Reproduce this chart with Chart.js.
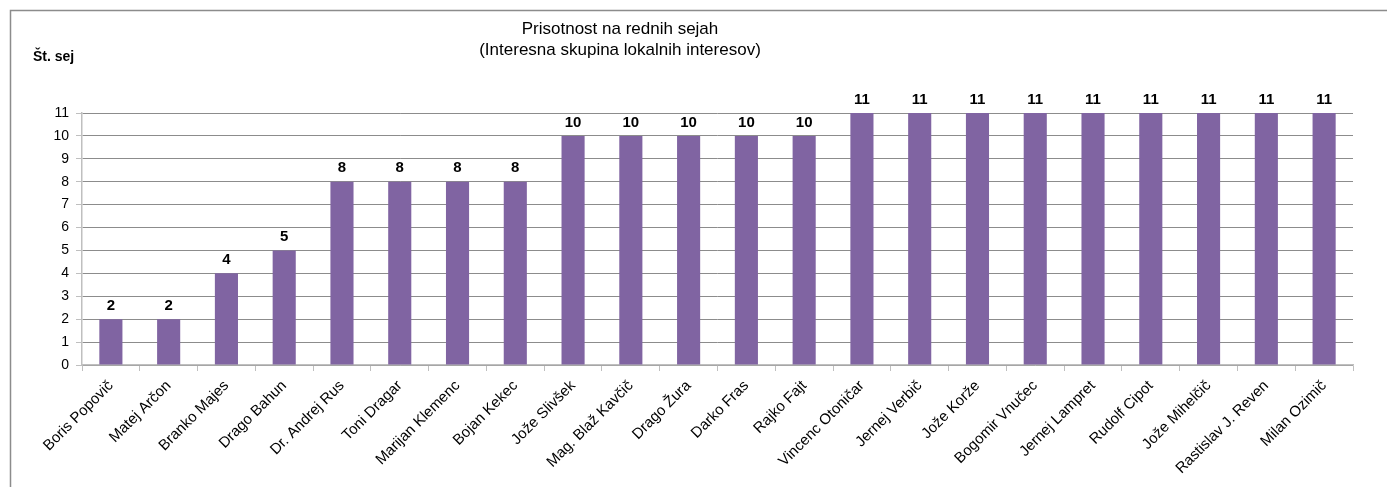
<!DOCTYPE html>
<html>
<head>
<meta charset="utf-8">
<script src="https://cdn.jsdelivr.net/npm/chart.js@4/dist/chart.umd.min.js"></script>
<style>
  html, body { margin: 0; padding: 0; background: #fff; }
  #wrap { width: 1387px; height: 487px; }
</style>
</head>
<body>
<div id="wrap"><canvas id="chart" width="1387" height="487"></canvas></div>
<script>
const names = [
  "Boris Popovič", "Matej Arčon", "Branko Majes", "Drago Bahun", "Dr. Andrej Rus",
  "Toni Dragar", "Marijan Klemenc", "Bojan Kekec", "Jože Slivšek", "Mag. Blaž Kavčič",
  "Drago Žura", "Darko Fras", "Rajko Fajt", "Vincenc Otoničar", "Jernej Verbič",
  "Jože Korže", "Bogomir Vnučec", "Jernej Lampret", "Rudolf Cipot", "Jože Mihelčič",
  "Rastislav J. Reven", "Milan Ozimič"
];
const sessions = [2, 2, 4, 5, 8, 8, 8, 8, 10, 10, 10, 10, 10, 11, 11, 11, 11, 11, 11, 11, 11, 11];
const titleLines = ["Prisotnost na rednih sejah", "(Interesna skupina lokalnih interesov)"];
const yLabel = "Št. sej";

const FONT = "'Liberation Sans', Arial, sans-serif";

// frame, title, axis label and values above bars
const decorations = {
  id: "decorations",
  beforeDraw(chart) {
    const ctx = chart.ctx;
    ctx.save();
    ctx.strokeStyle = "#8c8c8c";
    ctx.lineWidth = 1.5;
    ctx.strokeRect(10.5, 10.5, 1600, 1000);
    ctx.restore();
  },
  afterDatasetsDraw(chart) {
    const ctx = chart.ctx;
    ctx.save();
    ctx.fillStyle = "#000";
    ctx.textAlign = "center";
    ctx.textBaseline = "middle";
    ctx.font = "17px " + FONT;
    ctx.fillText(titleLines[0], 620, 29);
    ctx.fillText(titleLines[1], 620, 50);

    ctx.textAlign = "left";
    ctx.font = "bold 14px " + FONT;
    ctx.fillText(yLabel, 33, 57);

    ctx.textAlign = "center";
    ctx.textBaseline = "bottom";
    ctx.font = "bold 15px " + FONT;
    const meta = chart.getDatasetMeta(0);
    meta.data.forEach((bar, i) => {
      ctx.fillText(String(sessions[i]), bar.x, bar.y - 6);
    });
    ctx.restore();
  }
};

new Chart(document.getElementById("chart"), {
  type: "bar",
  data: {
    labels: names,
    datasets: [{
      data: sessions,
      backgroundColor: "#8064A2",
      borderWidth: 0,
      barPercentage: 0.4,
      categoryPercentage: 1
    }]
  },
  options: {
    responsive: false,
    animation: false,
    events: [],
    layout: { padding: { top: 113, left: 42, right: 34, bottom: 0 } },
    plugins: {
      legend: { display: false },
      tooltip: { enabled: false }
    },
    scales: {
      x: {
        afterFit(scale) { scale.height = 122; },
        grid: {
          offset: true,
          drawOnChartArea: false,
          drawTicks: true,
          tickLength: 6,
          tickColor: "#bfbfbf"
        },
        border: { color: "#bfbfbf", width: 1.5 },
        ticks: {
          autoSkip: false,
          maxRotation: 45,
          minRotation: 45,
          padding: 6,
          color: "#000",
          font: { family: FONT, size: 15 }
        }
      },
      y: {
        min: 0,
        max: 11,
        afterFit(scale) { scale.width = 40; },
        grid: {
          color: "#8c8c8c",
          drawTicks: true,
          tickLength: 6,
          tickColor: "#bfbfbf"
        },
        border: { color: "#bfbfbf", width: 1.5 },
        ticks: {
          stepSize: 1,
          padding: 7,
          color: "#000",
          font: { family: FONT, size: 14 }
        }
      }
    }
  },
  plugins: [decorations]
});
</script>
</body>
</html>
